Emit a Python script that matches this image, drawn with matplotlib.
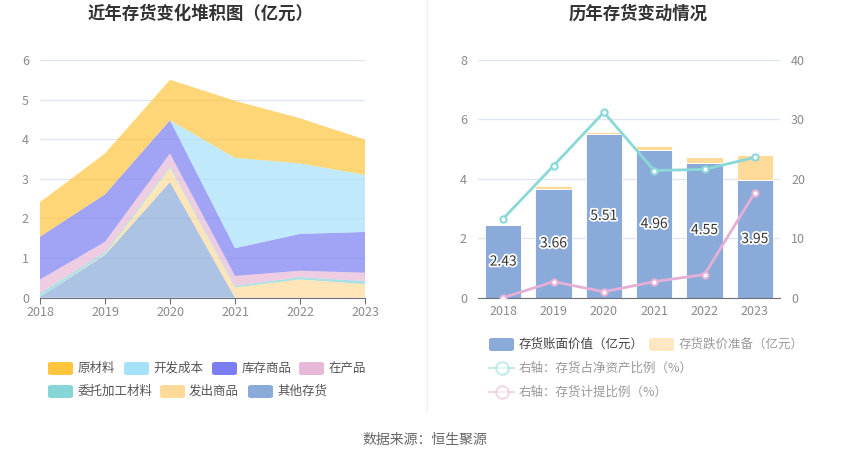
import matplotlib.pyplot as plt
import matplotlib.patheffects as pe
from matplotlib.patches import FancyBboxPatch
from matplotlib.lines import Line2D
import numpy as np

plt.rcParams['font.family'] = ['Noto Sans CJK SC', 'DejaVu Sans']

years = ['2018', '2019', '2020', '2021', '2022', '2023']

# stacked area (亿元), bottom to top
other_inv = [0.02, 1.08, 2.92, 0.00, 0.00, 0.00]      # 其他存货
shipped = [0.00, 0.02, 0.36, 0.26, 0.46, 0.34]        # 发出商品
consigned = [0.09, 0.05, 0.04, 0.04, 0.06, 0.08]      # 委托加工材料
wip = [0.35, 0.26, 0.32, 0.25, 0.16, 0.21]            # 在产品
goods = [1.08, 1.20, 0.84, 0.70, 0.93, 1.03]          # 库存商品
dev_cost = [0.00, 0.00, 0.00, 2.28, 1.78, 1.44]       # 开发成本
raw = [0.87, 1.03, 1.02, 1.44, 1.14, 0.89]            # 原材料

# right chart
book_value = [2.43, 3.66, 5.51, 4.96, 4.55, 3.95]
provision = [0.00, 0.11, 0.07, 0.15, 0.19, 0.85]
inv_to_net_assets = [13.3, 22.2, 31.2, 21.4, 21.6, 23.6]
provision_ratio = [0.0, 2.7, 1.0, 2.7, 3.9, 17.7]

W, H = 850, 458
fig = plt.figure(figsize=(W / 100, H / 100), dpi=100)

grid_c = '#E0E6F1'
tick_c = '#8A8A8A'
axis_c = '#6E7079'

def fx(px):
    return px / W

def fy(py):
    return 1 - py / H

# ---------- left: stacked area ----------
ax1 = fig.add_axes([fx(40), fy(297.7), fx(325), fy(60) - fy(297.7)])
series = [other_inv, shipped, consigned, wip, goods, dev_cost, raw]
fills = ['#8AAAD9', '#FFDA99', '#86D6D8', '#E8B8D8', '#7A7EF2', '#A6E1FA', '#FFC53D']
x = np.arange(len(years))
ax1.stackplot(x, *series, colors=fills, alpha=0.7, linewidth=0)
ax1.set_xlim(0, 5)
ax1.set_ylim(0, 6)
ax1.set_yticks(range(0, 7))
ax1.set_xticks(x)
ax1.set_xticklabels(years)
ax1.grid(axis='y', color=grid_c, linewidth=1)
ax1.set_axisbelow(True)
for s in ['top', 'right', 'left']:
    ax1.spines[s].set_visible(False)
ax1.spines['bottom'].set_color(axis_c)
ax1.tick_params(axis='y', length=0, colors=tick_c, labelsize=9, pad=8)
ax1.tick_params(axis='x', length=4, color=axis_c, colors=tick_c, labelsize=9, pad=2)
fig.text(fx(201), fy(14), '近年存货变化堆积图（亿元）', ha='center', va='center',
         fontsize=12.5, fontweight='bold', color='#333333')

# ---------- right: bars + lines ----------
ax2 = fig.add_axes([fx(478), fy(297.7), fx(302), fy(60) - fy(297.7)])
ax2.bar(x, book_value, width=0.72, color='#8AAAD9', edgecolor='white', linewidth=0.6)
ax2.bar(x, provision, width=0.72, bottom=book_value, color='#FFDA99',
        edgecolor='white', linewidth=0.6)
for xi, v in zip(x, book_value):
    ax2.text(xi, v / 2, f'{v:.2f}', ha='center', va='center', fontsize=10,
             color='#333333', path_effects=[pe.withStroke(linewidth=2.5, foreground='white')])
ax2.set_xlim(-0.5, 5.5)
ax2.set_ylim(0, 8)
ax2.set_yticks([0, 2, 4, 6, 8])
ax2.set_xticks(x)
ax2.set_xticklabels(years)
ax2.grid(axis='y', color=grid_c, linewidth=1)
ax2.set_axisbelow(True)
for s in ['top', 'right', 'left']:
    ax2.spines[s].set_visible(False)
ax2.spines['bottom'].set_color(axis_c)
ax2.tick_params(axis='y', length=0, colors=tick_c, labelsize=9, pad=8)
ax2.tick_params(axis='x', length=0, colors=tick_c, labelsize=9, pad=5)

ax3 = ax2.twinx()
ax3.plot(x, inv_to_net_assets, color='#8AD8D8', linewidth=2, marker='o',
         markersize=4.5, markerfacecolor='white', markeredgewidth=1.5)
ax3.plot(x, provision_ratio, color='#E6B0D6', linewidth=2, marker='o',
         markersize=4.5, markerfacecolor='white', markeredgewidth=1.5)
ax3.set_ylim(0, 40)
ax3.set_yticks([0, 10, 20, 30, 40])
for s in ['top', 'right', 'left', 'bottom']:
    ax3.spines[s].set_visible(False)
ax3.tick_params(axis='y', length=0, colors=tick_c, labelsize=9, pad=8)
fig.text(fx(638), fy(14), '历年存货变动情况', ha='center', va='center',
         fontsize=12.5, fontweight='bold', color='#333333')

# ---------- legends ----------
def patch(x0, y0, color, alpha=1.0):
    p = FancyBboxPatch((fx(x0), fy(y0 + 13)), fx(25), fy(0) - fy(13),
                       boxstyle='round,pad=0,rounding_size=0.004',
                       transform=fig.transFigure, facecolor=color, edgecolor='none',
                       alpha=alpha)
    fig.patches.append(p)

left_items = [
    (48, 362, 78, '原材料', '#FFC53D'),
    (124, 362, 153, '开发成本', '#A6E1FA'),
    (212, 362, 242, '库存商品', '#7A7EF2'),
    (299, 362, 329, '在产品', '#E8B8D8'),
    (48, 385, 78, '委托加工材料', '#86D6D8'),
    (160, 385, 189, '发出商品', '#FFDA99'),
    (248, 385, 277, '其他存货', '#8AAAD9'),
]
for px, py, tx, label, c in left_items:
    patch(px, py, c)
    fig.text(fx(tx), fy(py + 6.5), label, ha='left', va='center', fontsize=9, color='#555555')

patch(489, 338, '#8AAAD9')
fig.text(fx(519), fy(344.5), '存货账面价值（亿元）', ha='left', va='center', fontsize=9, color='#444444')
patch(649, 338, '#FFDA99', alpha=0.6)
fig.text(fx(679), fy(344.5), '存货跌价准备（亿元）', ha='left', va='center', fontsize=9, color='#999999')

for py, c, label in [(368, '#8AD8D8', '右轴：存货占净资产比例（%）'),
                     (392, '#E6B0D6', '右轴：存货计提比例（%）')]:
    fig.lines.append(Line2D([fx(489), fx(514)], [fy(py), fy(py)], transform=fig.transFigure,
                            color=c, alpha=0.5, linewidth=1.5, marker='', zorder=3))
    fig.lines.append(Line2D([fx(501.5)], [fy(py)], transform=fig.transFigure, color=c,
                            alpha=0.5, marker='o', markersize=9, markerfacecolor='white',
                            markeredgewidth=1.5, zorder=4))
    fig.text(fx(519), fy(py), label, ha='left', va='center', fontsize=9, color='#999999')

# divider and source
fig.lines.append(Line2D([fx(427), fx(427)], [fy(0), fy(410)], transform=fig.transFigure,
                        color='#EEEEEE', linewidth=1))
fig.text(fx(425), fy(440), '数据来源：恒生聚源', ha='center', va='center', fontsize=10, color='#666666')

fig.savefig('out.png', dpi=100)
